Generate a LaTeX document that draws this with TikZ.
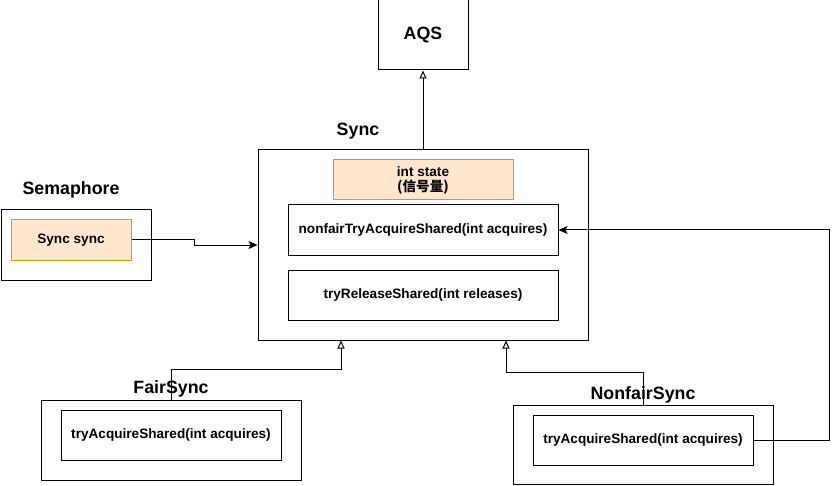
\documentclass[tikz,border=0pt]{standalone}
\usepackage{fontspec}
\setmainfont{Liberation Sans}
\newfontfamily\cjk{Noto Sans CJK SC}
\usetikzlibrary{arrows.meta}
\definecolor{orfill}{HTML}{FFE6CC}
\definecolor{ordraw}{HTML}{D79B00}
\begin{document}
\begin{tikzpicture}[x=1pt,y=-1pt,line width=1pt,
  box/.style={draw=black, inner sep=0pt, align=center, font=\fontsize{13.6}{15}\selectfont\bfseries},
  orbox/.style={box, fill=orfill, draw=ordraw},
  title/.style={inner sep=0pt, font=\fontsize{17.8}{20}\selectfont\bfseries},
  opentri/.style={-{Triangle[open,width=7pt,length=8pt]}},
  filled/.style={-{Stealth[width=8pt,length=9pt,inset=2pt]}}]
\useasboundingbox (0,0) rectangle (837,486);
% AQS
\node[box, minimum width=90pt, minimum height=70pt, font=\fontsize{17.8}{20}\selectfont\bfseries] (aqs) at (423,35) {AQS};
% Sync
\node[title] (synct) at (358,131) {Sync};
\node[box, minimum width=330pt, minimum height=190pt] (sync) at (423,245) {};
\node[orbox, minimum width=180pt, minimum height=40pt] (state) at (423,180) {int state\\{\cjk (信号量)}};
\node[box, minimum width=270pt, minimum height=50pt] (nonfair) at (423,230) {nonfairTryAcquireShared(int acquires)};
\node[box, minimum width=270pt, minimum height=50pt] (release) at (423,295) {tryReleaseShared(int releases)};
% Semaphore
\node[title] (semt) at (71,190) {Semaphore};
\node[box, minimum width=150pt, minimum height=70pt] (sem) at (76,245) {};
\node[orbox, minimum width=120pt, minimum height=40pt] (syncsync) at (71,240) {Sync sync};
% FairSync
\node[box, minimum width=260pt, minimum height=80pt] (fairout) at (171,440) {};
\node[box, minimum width=220pt, minimum height=50pt] (fairin) at (171,435) {tryAcquireShared(int acquires)};
\node[title] (fairt) at (171,389) {FairSync};
% NonfairSync
\node[box, minimum width=260pt, minimum height=79pt] (nfout) at (643,445) {};
\node[box, minimum width=220pt, minimum height=50pt] (nfin) at (643,440) {tryAcquireShared(int acquires)};
\node[title] (nft) at (643,395) {NonfairSync};
% connectors
\draw[opentri] (sync.north) -- (aqs.south);
\draw[filled] (syncsync.east) -- ++(63,0) |- (sync.west);
\draw[opentri] (fairout.north) -- ++(0,-30) -| ([xshift=-82pt]sync.south);
\draw[opentri] (nfout.north) -- ++(0,-33) -| ([xshift=83pt]sync.south);
\draw[filled] (nfin.east) -- ++(76,0) |- (nonfair.east);
\end{tikzpicture}
\end{document}
